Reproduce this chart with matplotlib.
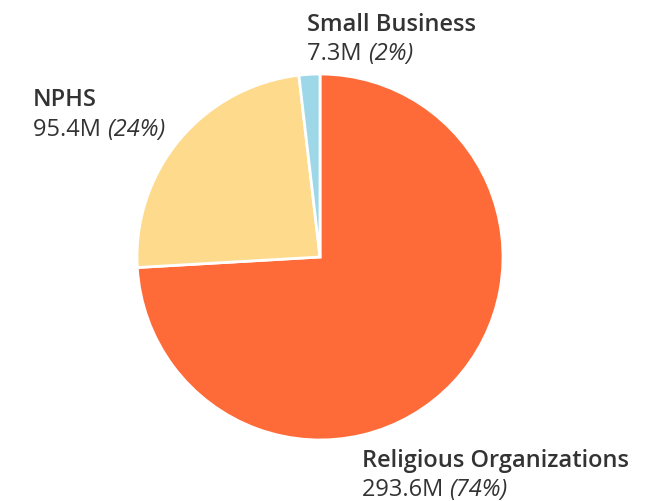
import matplotlib
matplotlib.use("Agg")
import matplotlib.pyplot as plt

categories = ["Religious Organizations", "NPHS", "Small Business"]
values = [293.6, 95.4, 7.3]
value_labels = ["293.6M", "95.4M", "7.3M"]
pct_labels = ["(74%)", "(24%)", "(2%)"]
colors = ["#FF6B38", "#FDDA8C", "#9ED8E8"]

W, H = 664, 502
fig = plt.figure(figsize=(W / 100, H / 100), dpi=100)
cx, cy, r = 320, 258, 183
ax = fig.add_axes([(cx - r) / W, (H - cy - r) / H, 2 * r / W, 2 * r / H])
ax.pie(values, colors=colors, startangle=90, counterclock=False, radius=1,
       wedgeprops=dict(edgecolor="white", linewidth=2))
ax.set_xlim(-1.0, 1.0)
ax.set_ylim(-1.0, 1.0)
ax.set_aspect("equal")
ax.axis("off")

# label anchor (left x, baseline of first line) in pixels
label_pos = [(362, 467), (33, 106), (307, 31)]
tc = "#333333"
fs = 17
gap = 29.5
for i, (x, y) in enumerate(label_pos):
    fig.text(x / W, 1 - y / H, categories[i], family="Open Sans", fontweight="semibold",
             fontsize=fs, color=tc, ha="left", va="baseline")
    t = fig.text(x / W, 1 - (y + gap) / H, value_labels[i] + " ", family="Open Sans",
                 fontsize=fs, color=tc, ha="left", va="baseline")
    fig.canvas.draw()
    bb = t.get_window_extent()
    fig.text(bb.x1 / W, 1 - (y + gap) / H, pct_labels[i], family="Open Sans", style="italic",
             fontsize=fs, color=tc, ha="left", va="baseline")

fig.savefig("out.png", dpi=100)
